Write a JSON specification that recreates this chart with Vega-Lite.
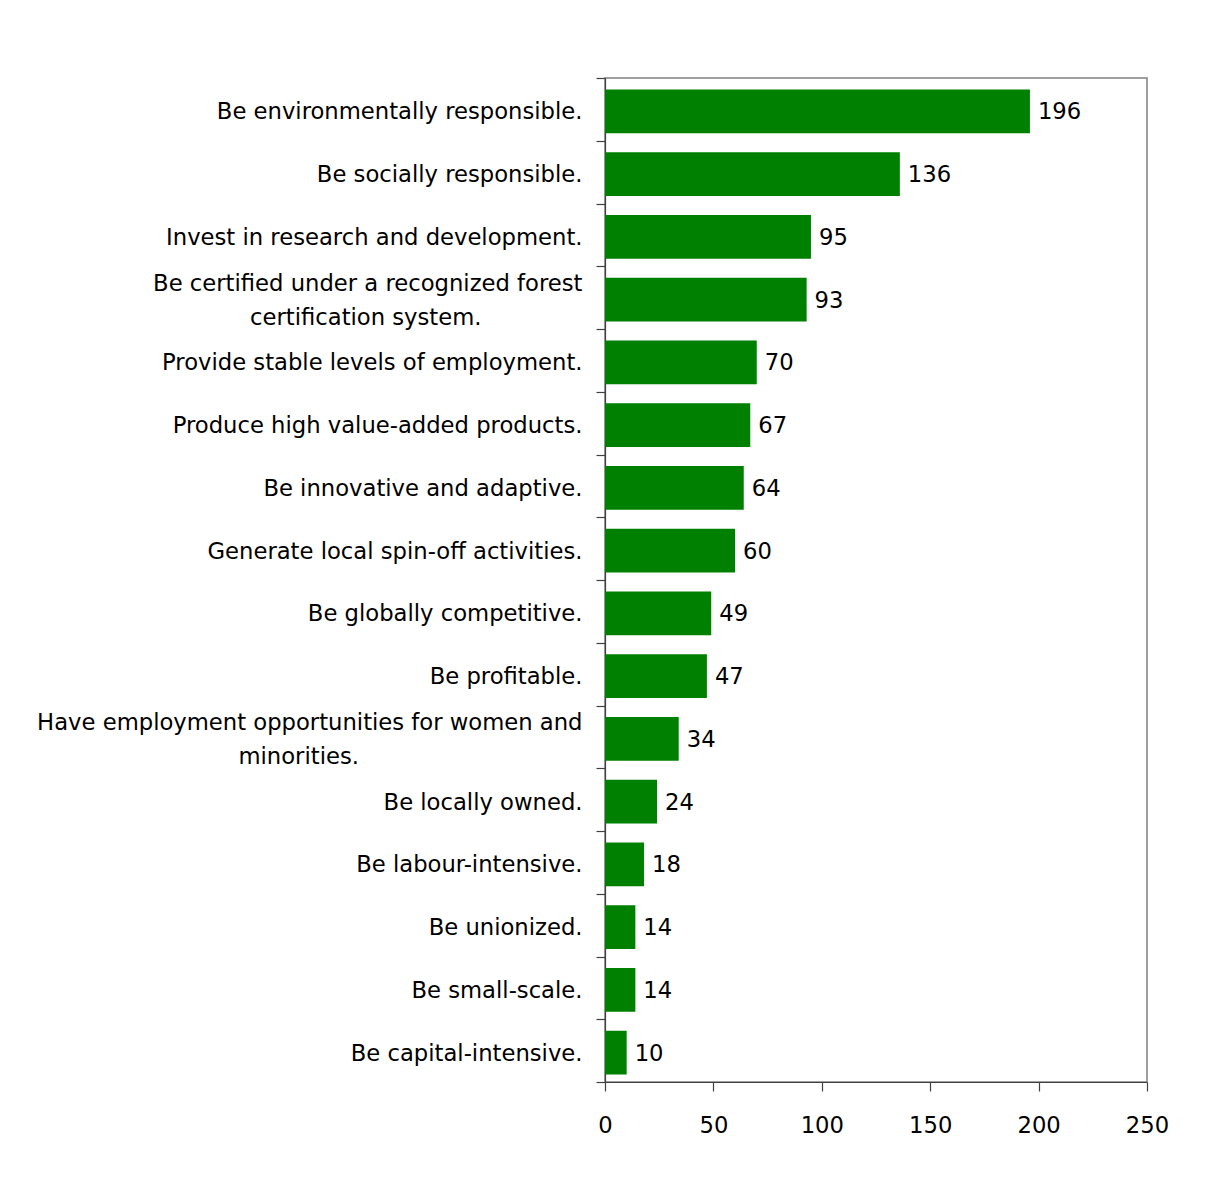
{
  "$schema": "https://vega.github.io/schema/vega-lite/v6.json",
  "autosize": {"type": "none"},
  "width": 542,
  "height": 1004,
  "padding": {"left": 605, "top": 78, "right": 74, "bottom": 115},
  "background": "white",
  "config": {
    "view": {"stroke": "#808080", "strokeWidth": 1.5},
    "font": "DejaVu Sans"
  },
  "data": {
    "values": [
      {"item": "Be environmentally responsible.", "count": 196},
      {"item": "Be socially responsible.", "count": 136},
      {"item": "Invest in research and development.", "count": 95},
      {"item": "Be certified under a recognized forest|certification system.\u00a0\u00a0\u00a0\u00a0\u00a0\u00a0\u00a0\u00a0\u00a0\u00a0\u00a0\u00a0\u00a0\u00a0\u200b", "count": 93},
      {"item": "Provide stable levels of employment.", "count": 70},
      {"item": "Produce high value-added products.", "count": 67},
      {"item": "Be innovative and adaptive.", "count": 64},
      {"item": "Generate local spin-off activities.", "count": 60},
      {"item": "Be globally competitive.", "count": 49},
      {"item": "Be profitable.", "count": 47},
      {"item": "Have employment opportunities for women and|minorities.\u00a0\u00a0\u00a0\u00a0\u00a0\u00a0\u00a0\u00a0\u00a0\u00a0\u00a0\u00a0\u00a0\u00a0\u00a0\u00a0\u00a0\u00a0\u00a0\u00a0\u00a0\u00a0\u00a0\u00a0\u00a0\u00a0\u00a0\u00a0\u00a0\u00a0\u00a0\u200b", "count": 34},
      {"item": "Be locally owned.", "count": 24},
      {"item": "Be labour-intensive.", "count": 18},
      {"item": "Be unionized.", "count": 14},
      {"item": "Be small-scale.", "count": 14},
      {"item": "Be capital-intensive.", "count": 10}
    ]
  },
  "encoding": {
    "y": {
      "field": "item",
      "type": "nominal",
      "sort": null,
      "scale": {"paddingInner": 0, "paddingOuter": 0},
      "axis": {
        "title": null,
        "tickBand": "extent",
        "tickSize": 9,
        "tickColor": "#404040",
        "tickWidth": 1.2,
        "domainColor": "#404040",
        "domainWidth": 1.2,
        "labelFont": "DejaVu Sans",
        "labelFontSize": 22.7,
        "labelColor": "black",
        "labelLimit": 700,
        "labelLineHeight": 34,
        "labelPadding": 14,
        "labelOffset": 2.5,
        "labelExpr": "isString(datum.value) ? split(datum.value, '|') : ''",
        "labelBaseline": {"condition": {"test": "isString(datum.value) && indexof(datum.value, '|') >= 0", "value": "line-bottom"}, "value": "middle"}
      }
    },
    "x": {
      "field": "count",
      "type": "quantitative",
      "scale": {"domain": [0, 250]},
      "axis": {
        "title": null,
        "values": [0, 50, 100, 150, 200, 250],
        "grid": false,
        "tickSize": 9,
        "tickColor": "#404040",
        "tickWidth": 1.2,
        "domainColor": "#404040",
        "domainWidth": 1.2,
        "labelFont": "DejaVu Sans",
        "labelFontSize": 22.7,
        "labelColor": "black",
        "labelPadding": 23,
        "labelFlush": false
      }
    }
  },
  "layer": [
    {"mark": {"type": "bar", "color": "#008000", "height": {"band": 0.7}, "yOffset": 2}},
    {
      "mark": {"type": "text", "align": "left", "baseline": "middle", "dx": 8, "dy": 3, "font": "DejaVu Sans", "fontSize": 22.7, "color": "black"},
      "encoding": {"text": {"field": "count", "type": "quantitative"}}
    }
  ]
}
